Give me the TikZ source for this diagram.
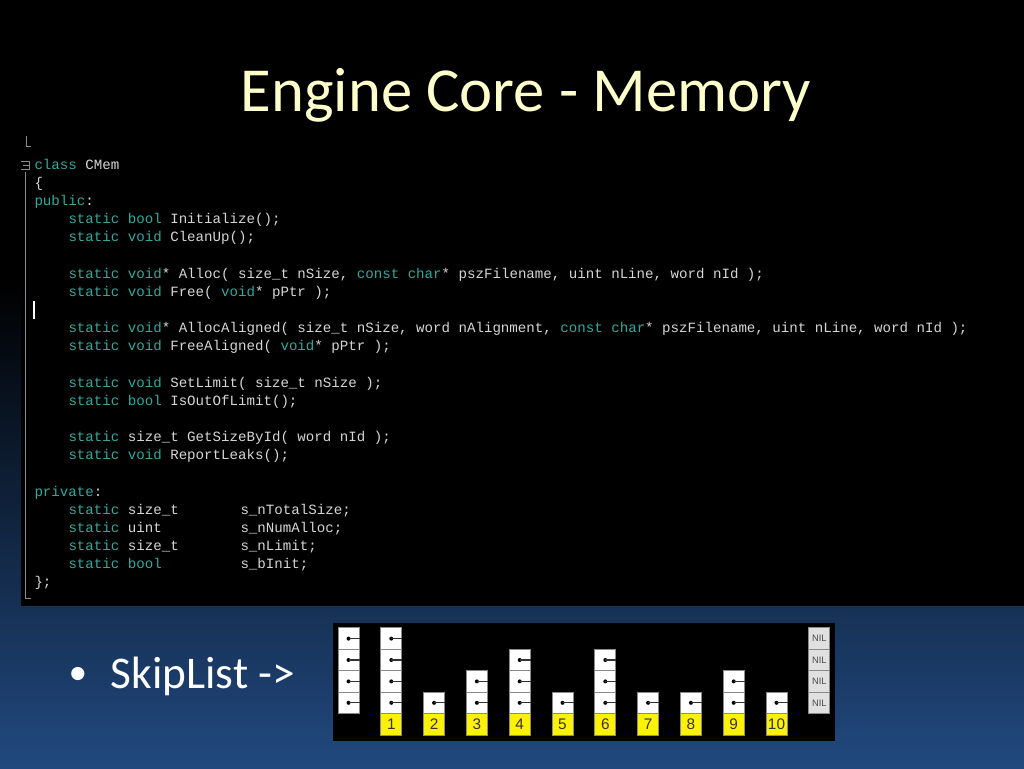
\documentclass[tikz,border=0pt]{standalone}
\usepackage{fontspec}
\setmainfont{Carlito}
\newfontfamily\codefont{Liberation Mono}
\newfontfamily\numfont{Liberation Sans}
\usetikzlibrary{positioning}
\definecolor{titleyellow}{HTML}{FFFFCC}
\definecolor{codekw}{HTML}{35A89E}
\definecolor{codetxt}{HTML}{D6D6D6}
\definecolor{slideblue}{HTML}{21497F}
\definecolor{foldgrey}{HTML}{8C8C8C}
\definecolor{cellgrey}{HTML}{8A8A8A}
\definecolor{nilgrey}{HTML}{E0E0E0}
\definecolor{keyyellow}{HTML}{FFF200}
\newcommand{\kw}[1]{\textcolor{codekw}{#1}}
\tikzset{every picture/.style={line width=0.75pt}}
\tikzset{
  codeline/.style={anchor=base west,inner sep=0pt,text=codetxt,font=\codefont\fontsize{10.6}{12}\selectfont},
  fold/.style={draw=foldgrey,line width=0.75pt},
  cell/.style={draw=cellgrey,fill=white,minimum width=15.75pt,minimum height=16pt,inner sep=0pt},
  keybox/.style={draw=cellgrey,fill=keyyellow,minimum width=15.75pt,minimum height=16pt,inner sep=0pt,text=black!80,font=\numfont\fontsize{11.5}{12}\selectfont},
  nilbox/.style={draw=cellgrey,fill=nilgrey,minimum width=15.75pt,minimum height=16pt,inner sep=0pt,text=black!70,font=\numfont\fontsize{7}{8}\selectfont}
}

\begin{document}
\begin{tikzpicture}[x=0.75pt,y=0.75pt,yscale=-1,xscale=1]
\useasboundingbox (0,0) rectangle (1024,768);
% slide background
\fill[black] (0,0) rectangle (1024,768);
\shade[top color=black,bottom color=slideblue] (0,280) rectangle (1024,768);
\fill[black] (21,128) rectangle (1024,606);
\fill[black] (333,623) rectangle (835,741);

\node[anchor=base,text=titleyellow,font=\fontsize{47}{56}\selectfont] (title) at (526,111) {Engine Core - Memory};

% editor fold marks
\draw[fold] (26,136) -- (26,146) -- (31,146);
\draw[fold] (21,161) -- (29,161) -- (29,169) -- (21,169);
\draw[fold] (23,165) -- (29,165);
\draw[fold] (25,172) -- (25,598) -- (31,598);
\draw[white,line width=1pt] (34,301) -- (34,319);

% code
\node[codeline] (l0) at (34,169) {\kw{class} CMem};
\node[codeline] (l1) at (34,187.2) {\{};
\node[codeline] (l2) at (34,205.3) {\kw{public}:};
\node[codeline] (l3) at (68,223.5) {\kw{static} \kw{bool} Initialize();};
\node[codeline] (l4) at (68,241.7) {\kw{static} \kw{void} CleanUp();};
\node[codeline] (l6) at (68,278) {\kw{static} \kw{void}* Alloc( size\_t nSize, \kw{const} \kw{char}* pszFilename, uint nLine, word nId );};
\node[codeline] (l7) at (68,296.2) {\kw{static} \kw{void} Free( \kw{void}* pPtr );};
\node[codeline] (l9) at (68,332.5) {\kw{static} \kw{void}* AllocAligned( size\_t nSize, word nAlignment, \kw{const} \kw{char}* pszFilename, uint nLine, word nId );};
\node[codeline] (l10) at (68,350.7) {\kw{static} \kw{void} FreeAligned( \kw{void}* pPtr );};
\node[codeline] (l12) at (68,387) {\kw{static} \kw{void} SetLimit( size\_t nSize );};
\node[codeline] (l13) at (68,405.2) {\kw{static} \kw{bool} IsOutOfLimit();};
\node[codeline] (l15) at (68,441.6) {\kw{static} size\_t GetSizeById( word nId );};
\node[codeline] (l16) at (68,459.7) {\kw{static} \kw{void} ReportLeaks();};
\node[codeline] (l18) at (34,496) {\kw{private}:};
\node[codeline] (l19) at (68,514.2) {\kw{static} size\_t};
\node[codeline] (l20) at (68,532.4) {\kw{static} uint};
\node[codeline] (l21) at (68,550.6) {\kw{static} size\_t};
\node[codeline] (l22) at (68,568.7) {\kw{static} \kw{bool}};
\node[codeline] (v19) at (240,514.2) {s\_nTotalSize;};
\node[codeline] (v20) at (240,532.4) {s\_nNumAlloc;};
\node[codeline] (v21) at (240,550.6) {s\_nLimit;};
\node[codeline] (v22) at (240,568.7) {s\_bInit;};
\node[codeline] (l23) at (34,586.9) {\};};

% bullet
\node[anchor=base,text=white,font=\fontsize{28}{30}\selectfont] (dot) at (78,684) {\textbullet};
\node[anchor=base west,text=white,font=\fontsize{34}{40}\selectfont] (item) at (106,688) {SkipList ->};

% skip list
\foreach \k/\h in {0/4,1/4,2/1,3/2,4/3,5/1,6/3,7/1,8/1,9/2,10/1} {
  \foreach \j in {1,...,\h} {
    \node[cell] (c\k-\j) at ({348.5+42.8*\k},{702.8-21.4*(\j-1)}) {};
    \fill[black] (c\k-\j.center) circle (2);
    \draw[black!80,line width=1pt] (c\k-\j.center) -- (c\k-\j.east);
  }
}
\foreach \k in {1,...,10}
  \node[keybox] (key\k) at ({348.5+42.8*\k},724.4) {\k};
\foreach \j in {1,...,4}
  \node[nilbox] (nil\j) at ({348.5+42.8*11},{702.8-21.4*(\j-1)}) {NIL};
\end{tikzpicture}
\end{document}
